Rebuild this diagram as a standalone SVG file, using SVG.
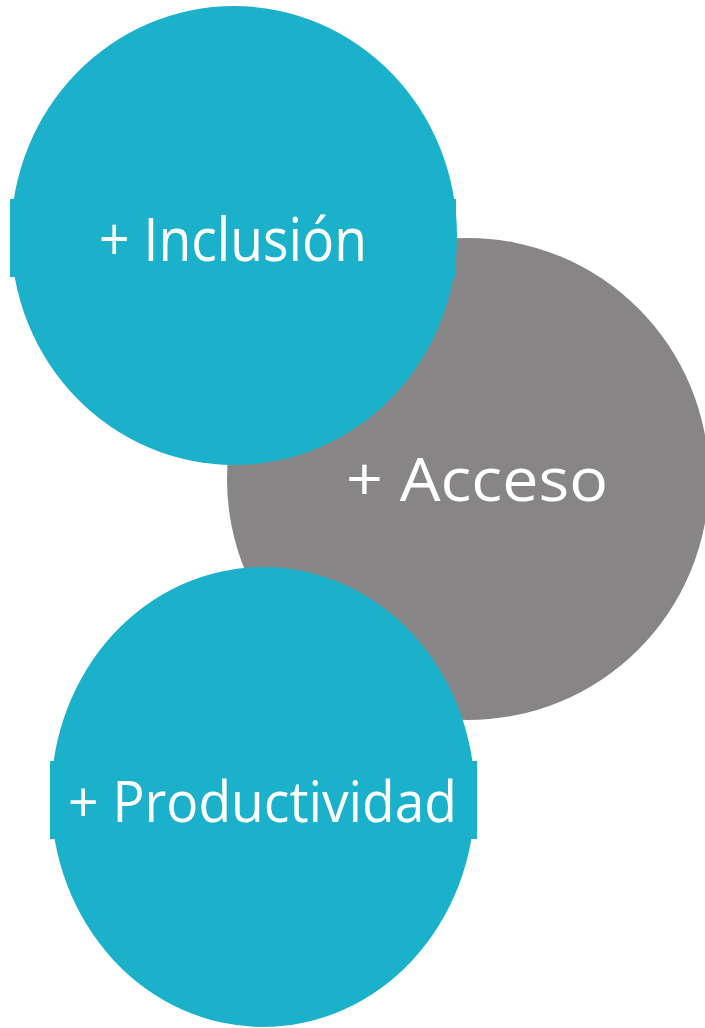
<svg xmlns="http://www.w3.org/2000/svg" width="705" height="1028" viewBox="0 0 705 1028">
<style>
.teal{fill:#1CB1CB}
.gray{fill:#878586}
.lbl{font-family:"Open Sans","Liberation Sans",sans-serif;fill:#FFFFFF;text-anchor:start}
</style>
<rect x="0" y="0" width="705" height="1028" fill="#FFFFFF"/>
<g id="acceso">
<circle class="gray" cx="468" cy="479" r="241"/>
<text class="lbl" x="346" y="501" font-size="61" textLength="262" lengthAdjust="spacingAndGlyphs">+ Acceso</text>
</g>
<g id="inclusion">
<ellipse class="teal" cx="234" cy="235.5" rx="223" ry="229.5"/>
<rect class="teal" x="10" y="199" width="446" height="78"/>
<text class="lbl" x="99" y="261" font-size="61" textLength="268" lengthAdjust="spacingAndGlyphs">+ Inclusión</text>
</g>
<g id="productividad">
<ellipse class="teal" cx="263" cy="797" rx="212" ry="230"/>
<rect class="teal" x="50" y="761" width="427" height="78"/>
<text class="lbl" x="68" y="822" font-size="56" textLength="389" lengthAdjust="spacingAndGlyphs">+ Productividad</text>
</g>
<g id="connectors"></g>
</svg>
